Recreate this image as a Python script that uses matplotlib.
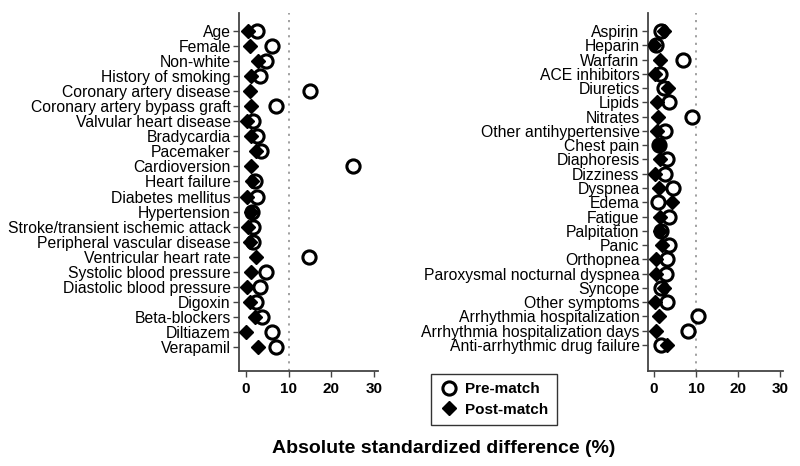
import matplotlib.pyplot as plt
from matplotlib.lines import Line2D

plt.rcParams['font.family'] = ['Liberation Sans', 'DejaVu Sans']

# -------------------------------
# Data (absolute standardized difference, %)
# -------------------------------
left_labels = ["Age", "Female", "Non-white", "History of smoking", "Coronary artery disease",
               "Coronary artery bypass graft", "Valvular heart disease", "Bradycardia", "Pacemaker",
               "Cardioversion", "Heart failure", "Diabetes mellitus", "Hypertension",
               "Stroke/transient ischemic attack", "Peripheral vascular disease",
               "Ventricular heart rate", "Systolic blood pressure", "Diastolic blood pressure",
               "Digoxin", "Beta-blockers", "Diltiazem", "Verapamil"]
left_pre = [2.6, 6.0, 4.6, 3.3, 15.0, 7.0, 1.7, 2.5, 3.4, 25.1, 2.1, 2.5, 1.5,
            1.6, 1.6, 14.7, 4.6, 3.3, 2.3, 3.8, 6.0, 7.0]
left_post = [0.5, 1.0, 2.9, 1.1, 1.0, 1.1, 0.2, 1.1, 2.3, 1.1, 1.5, 0.2, 1.2,
             0.4, 0.9, 2.3, 1.1, 0.2, 0.9, 2.1, 0.0, 2.9]

right_labels = ["Aspirin", "Heparin", "Warfarin", "ACE inhibitors", "Diuretics", "Lipids",
                "Nitrates", "Other antihypertensive", "Chest pain", "Diaphoresis", "Dizziness",
                "Dyspnea", "Edema", "Fatigue", "Palpitation", "Panic", "Orthopnea",
                "Paroxysmal nocturnal dyspnea", "Syncope", "Other symptoms",
                "Arrhythmia hospitalization", "Arrhythmia hospitalization days",
                "Anti-arrhythmic drug failure"]
right_pre = [1.7, 0.5, 6.8, 1.4, 2.4, 3.6, 9.0, 2.6, 1.3, 3.0, 2.6, 4.4, 1.0, 3.6,
             1.7, 3.6, 3.1, 2.8, 1.7, 3.2, 10.5, 8.1, 1.7]
right_post = [2.4, 0.0, 1.4, 0.2, 3.3, 0.8, 0.9, 0.8, 1.2, 1.4, 0.2, 1.1, 4.2, 1.5,
              1.4, 2.0, 0.5, 0.5, 2.4, 0.2, 1.1, 0.5, 3.0]

xticks = [0, 10, 20, 30]

fig = plt.figure(figsize=(8, 4.66), dpi=100)


def panel(rect, labels, pre, post, xlim, pad_top, pad_bot):
    ax = fig.add_axes(rect)
    y = list(range(len(labels)))
    ax.axvline(10, color='#999999', linestyle=(0, (1.2, 3)), linewidth=1.3, zorder=1)
    ax.plot(pre, y, 'o', markersize=9.5, markerfacecolor='white',
            markeredgecolor='black', markeredgewidth=2.2, linestyle='none', zorder=3)
    ax.plot(post, y, 'D', markersize=7, color='black', linestyle='none', zorder=4)
    ax.set_xlim(*xlim)
    ax.set_ylim(len(labels) - 1 + pad_bot, -pad_top)
    ax.set_yticks(y)
    ax.set_yticklabels(labels, fontsize=11.3)
    ax.set_xticks(xticks)
    ax.set_xticklabels([str(t) for t in xticks], fontsize=11, fontweight='bold')
    for s in ['top', 'right']:
        ax.spines[s].set_visible(False)
    for s in ['left', 'bottom']:
        ax.spines[s].set_color('#444444')
        ax.spines[s].set_linewidth(1.3)
    ax.tick_params(axis='y', direction='out', length=4, width=1, color='#444444', pad=2)
    ax.tick_params(axis='x', direction='out', length=4, width=1, color='#444444', pad=4)
    return ax


panel([0.299, 0.204, 0.174, 0.768], left_labels, left_pre, left_post, (-1.6, 31), 1.2, 1.6)
panel([0.810, 0.204, 0.169, 0.768], right_labels, right_pre, right_post, (-1.43, 30.7), 1.26, 1.82)

handles = [Line2D([], [], marker='o', linestyle='none', markersize=9.5, markerfacecolor='white',
                  markeredgecolor='black', markeredgewidth=2.2),
           Line2D([], [], marker='D', linestyle='none', markersize=7, color='black')]
leg = fig.legend(handles, ["Pre-match", "Post-match"], loc='center',
                 bbox_to_anchor=(0.6175, 0.143), frameon=True, fancybox=False,
                 edgecolor='black', prop={'weight': 'bold', 'size': 11},
                 handletextpad=0.5, borderpad=0.55, labelspacing=0.45, handlelength=1.2,
                 borderaxespad=0)
leg.get_frame().set_linewidth(1.0)

fig.text(0.555, 0.037, "Absolute standardized difference (%)", ha='center', va='center',
         fontsize=14, fontweight='bold')

fig.savefig("out.png", dpi=100)
